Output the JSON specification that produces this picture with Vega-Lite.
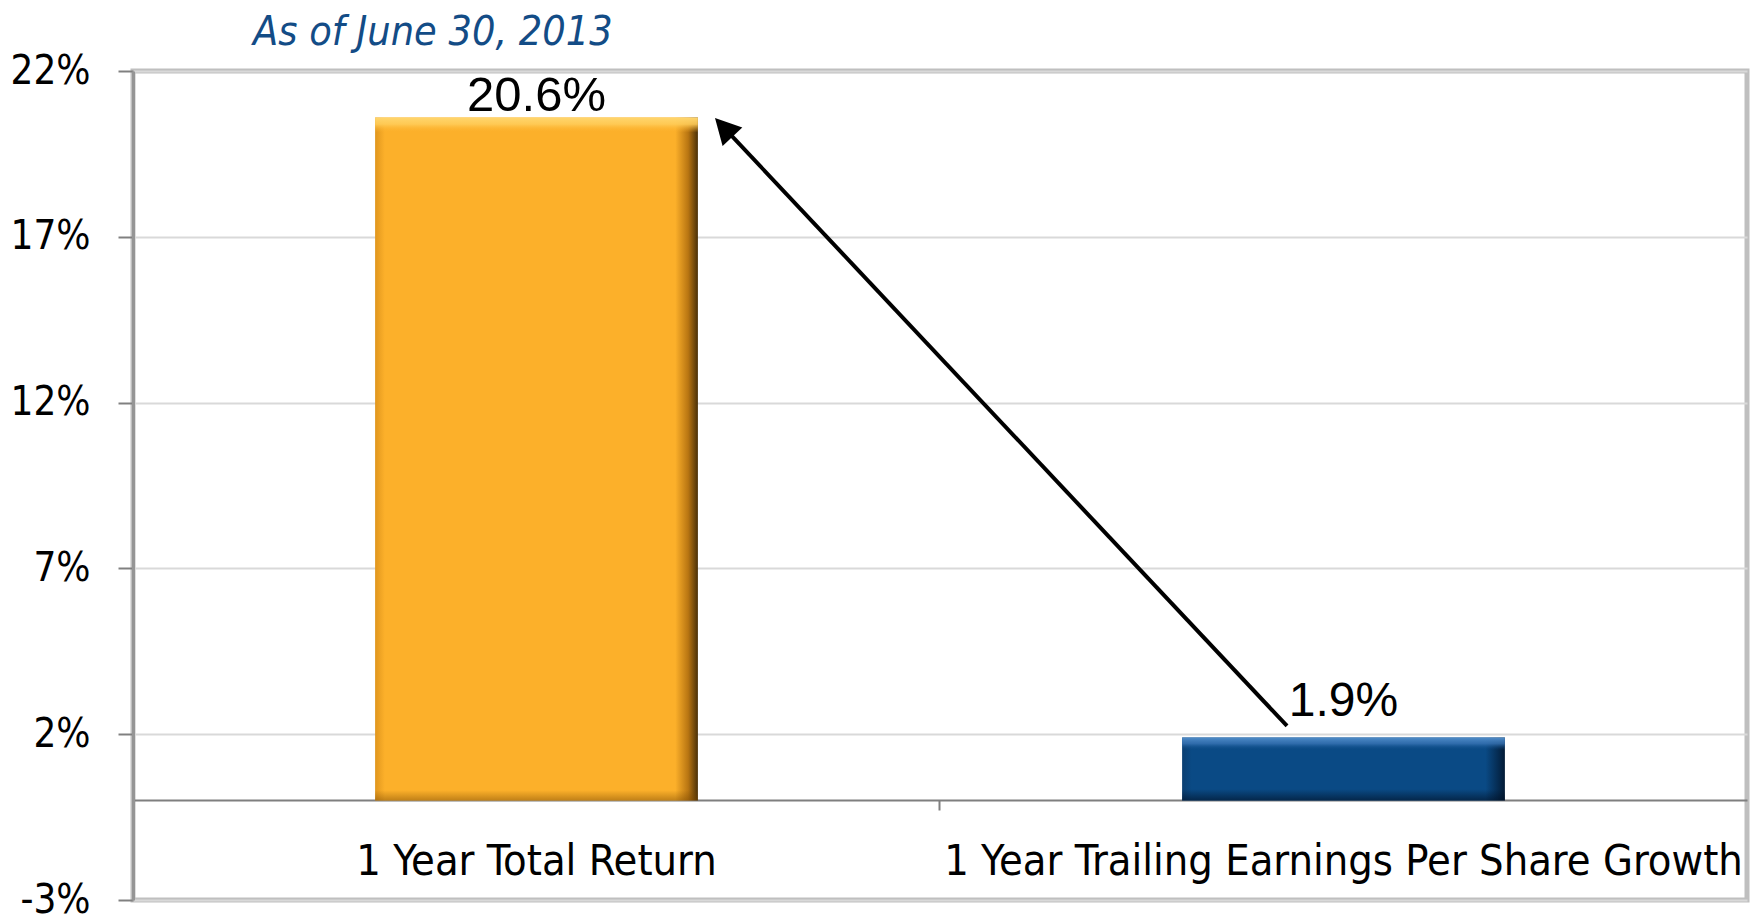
{
  "$schema": "https://vega.github.io/schema/vega-lite/v6.json",
  "autosize": {"type": "none"},
  "padding": {"left": 133, "top": 71, "right": 15, "bottom": 21},
  "width": 1614,
  "height": 829,
  "background": "white",
  "title": {
    "text": "As of June 30, 2013",
    "orient": "top",
    "anchor": "start",
    "frame": "group",
    "dx": 120,
    "dy": 35,
    "offset": 0,
    "font": "DejaVu Sans Condensed, sans-serif",
    "fontStyle": "italic",
    "fontWeight": "normal",
    "fontSize": 41,
    "color": "#134C86",
    "baseline": "alphabetic"
  },
  "datasets": {
    "bars": [
      {"category": "1 Year Total Return", "value": 20.6, "label": "20.6%"},
      {"category": "1 Year Trailing Earnings Per Share Growth", "value": 1.9, "label": "1.9%"}
    ],
    "arrow": [
      {"sx": 1.430, "sy": 2.25, "tx": 0.732, "ty": 20.30}
    ]
  },
  "layer": [
    {
      "data": {"name": "bars"},
      "layer": [
        {
          "transform": [{"filter": "datum.category == '1 Year Total Return'"}],
          "mark": {
            "type": "bar",
            "color": {
              "gradient": "linear", "x1": 0, "y1": 0, "x2": 1, "y2": 0,
              "stops": [
                {"offset": 0, "color": "#E0961E"},
                {"offset": 0.03, "color": "#FCB02A"},
                {"offset": 0.93, "color": "#FCB02A"},
                {"offset": 0.97, "color": "#B87512"},
                {"offset": 1, "color": "#4A3008"}
              ]
            }
          },
          "encoding": {
            "x": {
              "field": "category", "type": "nominal", "title": null,
              "scale": {"type": "band", "domain": ["1 Year Total Return", "1 Year Trailing Earnings Per Share Growth"], "paddingInner": 0.6, "paddingOuter": 0.3},
              "axis": {
                "orient": "bottom",
                "offset": -100,
                "domainColor": "#7F7F7F",
                "domainWidth": 2,
                "ticks": true,
                "tickColor": "#7F7F7F",
                "tickWidth": 2,
                "tickSize": 10,
                "bandPosition": -0.75,
                "grid": false,
                "labelAngle": 0,
                "labelFont": "DejaVu Sans Condensed, sans-serif",
                "labelFontSize": 43,
                "labelColor": "#000000",
                "labelPadding": 30,
                "labelLimit": 3000
              }
            },
            "y": {
              "field": "value", "type": "quantitative", "title": null,
              "scale": {"domain": [-3, 22], "nice": false, "zero": false},
              "axis": {
                "values": [-3, 2, 7, 12, 17, 22],
                "labelExpr": "datum.value + '%'",
                "domainColor": "#959595",
                "domainWidth": 3,
                "tickColor": "#808080",
                "tickWidth": 2,
                "tickSize": 15,
                "labelPadding": 28,
                "labelFont": "DejaVu Sans Condensed, sans-serif",
                "labelFontSize": 40,
                "labelColor": "#000000",
                "labelOverlap": false,
                "gridColor": "#D9D9D9",
                "gridWidth": 2
              }
            }
          }
        },
        {
          "transform": [{"filter": "datum.category == '1 Year Total Return'"}],
          "mark": {
            "type": "bar",
            "color": {
              "gradient": "linear", "x1": 0, "y1": 0, "x2": 0, "y2": 1,
              "stops": [
                {"offset": 0, "color": "rgba(255,214,110,1)"},
                {"offset": 0.01, "color": "rgba(255,204,88,0.9)"},
                {"offset": 0.022, "color": "rgba(252,176,42,0)"},
                {"offset": 0.985, "color": "rgba(120,70,0,0)"},
                {"offset": 1, "color": "rgba(120,70,0,0.45)"}
              ]
            }
          },
          "encoding": {
            "x": {"field": "category", "type": "nominal", "title": null},
            "y": {"field": "value", "type": "quantitative", "title": null, "scale": {"domain": [-3, 22], "nice": false, "zero": false}}
          }
        },
        {
          "transform": [{"filter": "datum.category != '1 Year Total Return'"}],
          "mark": {
            "type": "bar",
            "color": {
              "gradient": "linear", "x1": 0, "y1": 0, "x2": 1, "y2": 0,
              "stops": [
                {"offset": 0, "color": "#0B3F72"},
                {"offset": 0.03, "color": "#0A4A85"},
                {"offset": 0.94, "color": "#0A4A85"},
                {"offset": 1, "color": "#031B36"}
              ]
            }
          },
          "encoding": {
            "x": {"field": "category", "type": "nominal", "title": null},
            "y": {"field": "value", "type": "quantitative", "title": null, "scale": {"domain": [-3, 22], "nice": false, "zero": false}}
          }
        },
        {
          "transform": [{"filter": "datum.category != '1 Year Total Return'"}],
          "mark": {
            "type": "bar",
            "color": {
              "gradient": "linear", "x1": 0, "y1": 0, "x2": 0, "y2": 1,
              "stops": [
                {"offset": 0, "color": "rgba(80,140,200,1)"},
                {"offset": 0.1, "color": "rgba(55,115,180,0.8)"},
                {"offset": 0.2, "color": "rgba(10,74,133,0)"},
                {"offset": 0.82, "color": "rgba(0,15,35,0)"},
                {"offset": 1, "color": "rgba(0,15,35,0.6)"}
              ]
            }
          },
          "encoding": {
            "x": {"field": "category", "type": "nominal", "title": null},
            "y": {"field": "value", "type": "quantitative", "title": null, "scale": {"domain": [-3, 22], "nice": false, "zero": false}}
          }
        },
        {
          "transform": [{"filter": "datum.category == '1 Year Total Return'"}],
          "mark": {"type": "text", "font": "Liberation Sans, Arial, sans-serif", "fontSize": 49, "baseline": "alphabetic", "dy": -6, "color": "#000000"},
          "encoding": {
            "x": {"field": "category", "type": "nominal", "title": null},
            "y": {"field": "value", "type": "quantitative", "title": null, "scale": {"domain": [-3, 22], "nice": false, "zero": false}},
            "text": {"field": "label"}
          }
        },
        {
          "transform": [{"filter": "datum.category != '1 Year Total Return'"}],
          "mark": {"type": "text", "font": "Liberation Sans, Arial, sans-serif", "fontSize": 48, "baseline": "alphabetic", "dy": -22, "color": "#000000"},
          "encoding": {
            "x": {"field": "category", "type": "nominal", "title": null},
            "y": {"field": "value", "type": "quantitative", "title": null, "scale": {"domain": [-3, 22], "nice": false, "zero": false}},
            "text": {"field": "label"}
          }
        }
      ]
    },
    {
      "data": {"name": "arrow"},
      "layer": [
        {
          "mark": {"type": "rule", "color": "#000000", "strokeWidth": 4},
          "encoding": {
            "x": {"field": "sx", "type": "quantitative", "title": null, "scale": {"domain": [0, 2], "nice": false, "zero": false}, "axis": null},
            "x2": {"field": "tx"},
            "y": {"field": "sy", "type": "quantitative", "title": null, "scale": {"domain": [-3, 22], "nice": false, "zero": false}},
            "y2": {"field": "ty"}
          }
        },
        {
          "mark": {"type": "point", "shape": "M0,-1L-1.06,1L1.06,1Z", "filled": true, "color": "#000000", "opacity": 1, "size": 650, "angle": 316.8},
          "encoding": {
            "x": {"field": "tx", "type": "quantitative", "title": null, "scale": {"domain": [0, 2], "nice": false, "zero": false}, "axis": null},
            "y": {"field": "ty", "type": "quantitative", "title": null, "scale": {"domain": [-3, 22], "nice": false, "zero": false}}
          }
        }
      ]
    }
  ],
  "resolve": {"scale": {"x": "independent"}},
  "config": {
    "view": {"stroke": "#BFBFBF", "strokeWidth": 5}
  }
}
